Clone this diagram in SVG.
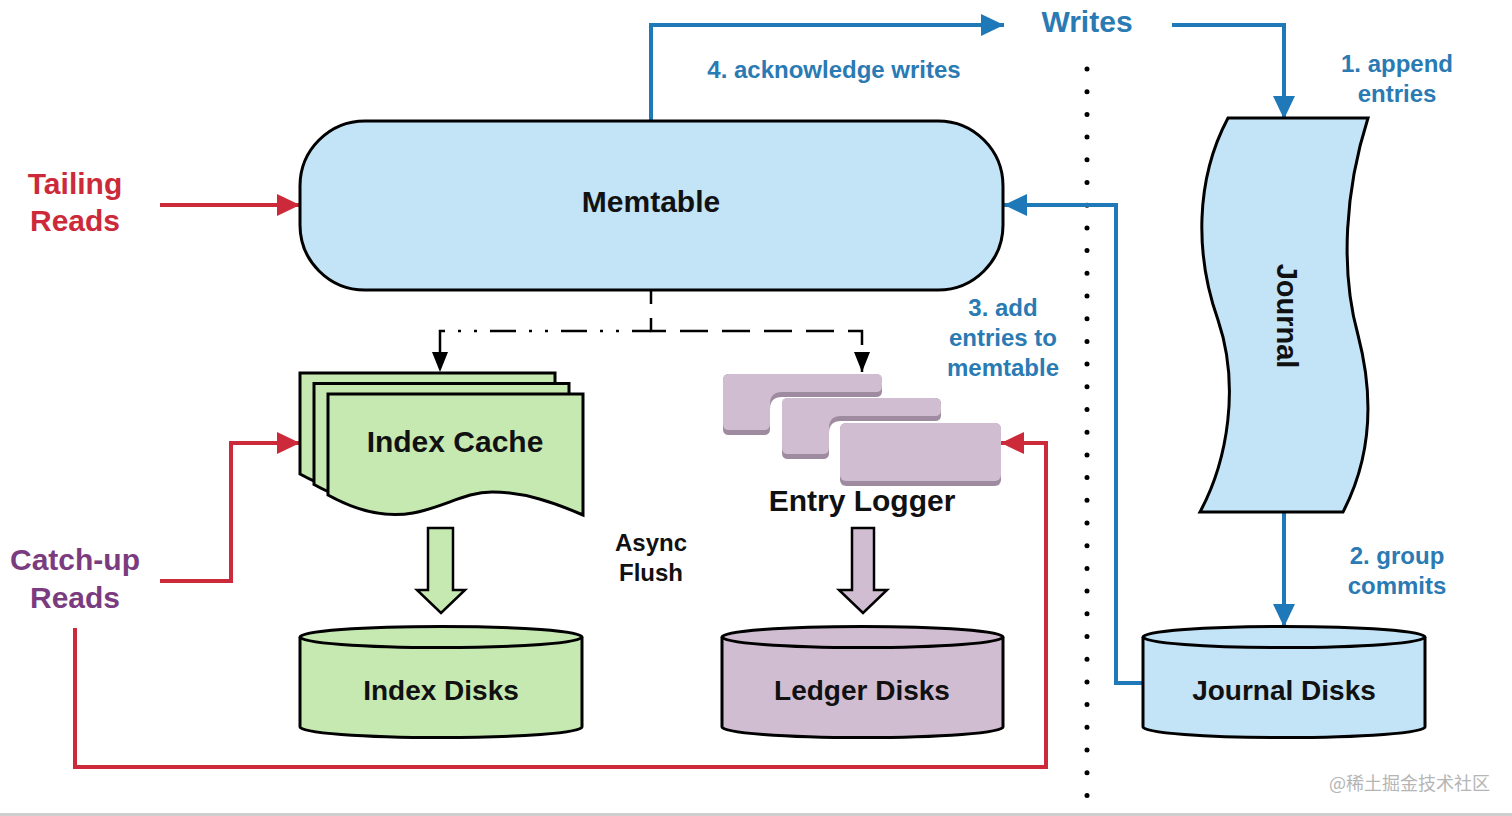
<svg xmlns="http://www.w3.org/2000/svg" xmlns:xlink="http://www.w3.org/1999/xlink" width="1512" height="816" viewBox="0 0 1512 816">
<style>
text{font-family:"Liberation Sans",Arial,sans-serif;font-weight:bold;text-anchor:middle}
.node{font-size:30px;fill:#111}
.disk{font-size:28px;fill:#111}
.blue{font-size:24px;fill:#2a7ab3}
.red{font-size:30px;fill:#cc2a3a}
.purple{font-size:30px;fill:#7b3c7f}
.stroke{stroke:#000;stroke-width:3}
.bl{fill:none;stroke:#1f78b8;stroke-width:4}
.rd{fill:none;stroke:#cc2a3a;stroke-width:4}
.dsh{fill:none;stroke:#000;stroke-width:2.5}
</style>
<defs>
<marker id="ab" markerUnits="userSpaceOnUse" markerWidth="24" markerHeight="22" refX="23" refY="11" orient="auto"><path d="M0,0 L23,11 L0,22 Z" fill="#1f78b8"/></marker>
<marker id="ar" markerUnits="userSpaceOnUse" markerWidth="24" markerHeight="22" refX="23" refY="11" orient="auto"><path d="M0,0 L23,11 L0,22 Z" fill="#cc2a3a"/></marker>
<marker id="ak" markerUnits="userSpaceOnUse" markerWidth="21" markerHeight="18" refX="20" refY="8" orient="auto"><path d="M0,0 L20,8 L0,16 Z" fill="#000"/></marker>
<path id="doc" d="M328,394 H583 V515 C555,503 525,492 492,492 C465,492 445,507 413,513 C385,518 355,510 328,495 Z"/>
<path id="cardDark" d="M729,374 H876 Q882,374 882,380 V391 Q882,397 876,397 H782 Q770,397 770,409 V429 Q770,435 764,435 H729 Q723,435 723,429 V380 Q723,374 729,374 Z"/>
<path id="cardLight" d="M729,374 H876 Q882,374 882,380 V386 Q882,392 876,392 H782 Q770,392 770,404 V424 Q770,430 764,430 H729 Q723,430 723,424 V380 Q723,374 729,374 Z"/>
</defs>
<rect width="1512" height="816" fill="#fff"/>
<rect x="0" y="813" width="1512" height="3" fill="#cfcfcf"/>

<g id="separator">
<line x1="1087" y1="69" x2="1087" y2="800" stroke="#000" stroke-width="5" stroke-linecap="round" stroke-dasharray="0 22.7"/>
</g>

<g id="connectors">
<path class="bl" d="M651,121 V25 H1004" marker-end="url(#ab)"/>
<path class="bl" d="M1172,25 H1284 V119" marker-end="url(#ab)"/>
<path class="bl" d="M1284,513 V627" marker-end="url(#ab)"/>
<path class="bl" d="M1143,683 H1116 V205 H1004" marker-end="url(#ab)"/>
<path class="rd" d="M160,205 H300" marker-end="url(#ar)"/>
<path class="rd" d="M160,581 H231 V443 H300" marker-end="url(#ar)"/>
<path class="rd" d="M75,628 V767 H1046 V443 H1001" marker-end="url(#ar)"/>
<path class="dsh" d="M651,290 V331 H862 V372" stroke-dasharray="14 14 28 14 28 14 28 14 28 14 28 14 28 14 28 14" marker-end="url(#ak)"/>
<path class="dsh" d="M651,331 H440 V372" stroke-dasharray="19 13 3 13 3 13 26 13 3 13 3 13 26 13 3 13 3 13 26 13 3 13 3 13" marker-end="url(#ak)"/>
</g>

<g id="labels">
<text class="blue" x="1087" y="32" style="font-size:30px">Writes</text>
<text class="blue" x="834" y="78">4. acknowledge writes</text>
<text class="blue" x="1397" y="72">1. append</text>
<text class="blue" x="1397" y="102">entries</text>
<text class="blue" x="1003" y="316">3. add</text>
<text class="blue" x="1003" y="346">entries to</text>
<text class="blue" x="1003" y="376">memtable</text>
<text class="blue" x="1397" y="564">2. group</text>
<text class="blue" x="1397" y="594">commits</text>
<text class="red" x="75" y="194">Tailing</text>
<text class="red" x="75" y="231">Reads</text>
<text class="purple" x="75" y="570">Catch-up</text>
<text class="purple" x="75" y="608">Reads</text>
<text x="651" y="551" style="font-size:24px;fill:#111">Async</text>
<text x="651" y="581" style="font-size:24px;fill:#111">Flush</text>
</g>

<g id="memtable">
<rect x="300" y="121" width="703" height="169" rx="65" ry="65" fill="#c3e3f6" class="stroke"/>
<text class="node" x="651" y="212">Memtable</text>
</g>

<g id="journal">
<path d="M1228,118 H1368 C1345,190 1340,270 1358,335 C1375,400 1370,460 1343,512 H1200 C1228,460 1240,385 1218,320 C1195,255 1195,180 1228,118 Z" fill="#c3e3f6" class="stroke"/>
<text class="node" x="1287" y="326" transform="rotate(90 1287 316)" style="font-size:29px">Journal</text>
</g>

<g id="journal-disks">
<path d="M1143,637 A141,10.5 0 0 1 1425,637 V727 A141,10.5 0 0 1 1143,727 Z" fill="#c3e3f6" class="stroke"/>
<path d="M1143,637 A141,10.5 0 0 0 1425,637" fill="none" class="stroke"/>
<text class="disk" x="1284" y="700">Journal Disks</text>
</g>

<g id="index-cache">
<use xlink:href="#doc" href="#doc" transform="translate(-28,-21)" fill="#c6e8b1" class="stroke"/>
<use xlink:href="#doc" href="#doc" transform="translate(-14,-10.5)" fill="#c6e8b1" class="stroke"/>
<use xlink:href="#doc" href="#doc" fill="#c6e8b1" class="stroke"/>
<text class="node" x="455" y="452">Index Cache</text>
</g>

<g id="index-flush">
<path d="M428,528 H453 V590 H465 L441,613 L417,590 H428 Z" fill="#c6e8b1" stroke="#000" stroke-width="2.5" stroke-linejoin="miter"/>
</g>

<g id="index-disks">
<path d="M300,637 A141,10.5 0 0 1 582,637 V727 A141,10.5 0 0 1 300,727 Z" fill="#c6e8b1" class="stroke"/>
<path d="M300,637 A141,10.5 0 0 0 582,637" fill="none" class="stroke"/>
<text class="disk" x="441" y="700">Index Disks</text>
</g>

<g id="entry-logger">
<use xlink:href="#cardDark" href="#cardDark" fill="#9e8b9f"/>
<use xlink:href="#cardLight" href="#cardLight" fill="#d1bdd2"/>
<g transform="translate(59,24)">
<use xlink:href="#cardDark" href="#cardDark" fill="#9e8b9f"/>
<use xlink:href="#cardLight" href="#cardLight" fill="#d1bdd2"/>
</g>
<rect x="840" y="423" width="161" height="63" rx="6" fill="#9e8b9f"/>
<rect x="840" y="423" width="161" height="58" rx="6" fill="#d1bdd2"/>
<text class="node" x="862" y="511">Entry Logger</text>
</g>

<g id="ledger-flush">
<path d="M852,528 H874 V590 H887 L863,613 L839,590 H852 Z" fill="#d1bdd2" stroke="#000" stroke-width="2.5"/>
</g>

<g id="ledger-disks">
<path d="M722,637 A140.5,10.5 0 0 1 1003,637 V727 A140.5,10.5 0 0 1 722,727 Z" fill="#d1bdd2" class="stroke"/>
<path d="M722,637 A140.5,10.5 0 0 0 1003,637" fill="none" class="stroke"/>
<text class="disk" x="862" y="700">Ledger Disks</text>
</g>

<text x="1490" y="790" style="font-family:'Noto Sans CJK SC',sans-serif;font-weight:normal;font-size:18px;fill:#b5b5b5;text-anchor:end">@稀土掘金技术社区</text>
</svg>
